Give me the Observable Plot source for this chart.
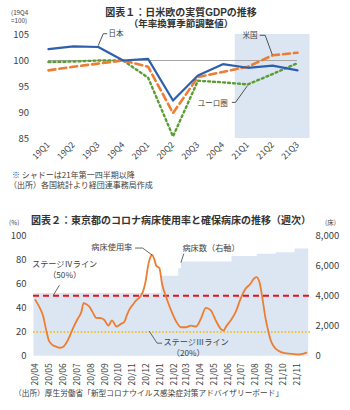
<!DOCTYPE html>
<html><head><meta charset="utf-8">
<script src="https://cdn.jsdelivr.net/npm/d3@7"></script>
<script src="https://cdn.jsdelivr.net/npm/@observablehq/plot@0.6"></script>
<style>
body{margin:0;background:#fff;}
#wrap{position:relative;width:350px;height:410px;overflow:hidden;font-family:"Noto Sans CJK JP",sans-serif;color:#404040;}
.t{position:absolute;white-space:nowrap;line-height:1;}
.c{transform:translate(-50%,-50%);text-align:center;}
.l{transform:translate(0,-50%);}
#wrap svg{position:absolute;left:0;}
</style></head><body><div id="wrap"></div>
<script>
// ---------- Chart 1 data ----------
const quarters = ["19Q1","19Q2","19Q3","19Q4","20Q1","20Q2","20Q3","20Q4","21Q1","21Q2","21Q3"];
const japan = [102.2, 102.7, 102.6, 100.0, 100.3, 92.3, 97.1, 99.3, 98.6, 99.0, 98.1];
const usa   = [98.1, 98.8, 99.4, 100.0, 98.8, 89.9, 96.8, 97.8, 98.8, 101.0, 101.5];
const euro  = [99.7, 99.8, 100.0, 100.0, 96.7, 85.4, 96.1, 95.8, 95.4, 97.4, 99.5];
const yTicks1 = [85, 90, 95, 100, 105];
const shadeFrom = "21Q1";
const baseValue = 100;
const seriesNames = ["日本", "米国", "ユーロ圏"];

// ---------- Chart 2 data ----------
const occDates = ["2020-03-31","2020-04-10","2020-04-17","2020-04-24","2020-04-30","2020-05-09","2020-05-17","2020-05-24","2020-05-31","2020-06-07","2020-06-14","2020-06-22","2020-07-03","2020-07-11","2020-07-16","2020-07-22","2020-07-29","2020-08-05","2020-08-13","2020-08-24","2020-08-31","2020-09-09","2020-09-17","2020-09-27","2020-10-07","2020-10-14","2020-10-20","2020-10-26","2020-11-02","2020-11-09","2020-11-20","2020-11-26","2020-12-01","2020-12-06","2020-12-10","2020-12-15","2020-12-20","2020-12-24","2020-12-31","2021-01-06","2021-01-15","2021-01-26","2021-02-06","2021-02-17","2021-02-28","2021-03-11","2021-03-22","2021-04-02","2021-04-13","2021-04-24","2021-05-05","2021-05-16","2021-05-23","2021-05-27","2021-06-07","2021-06-18","2021-06-29","2021-07-10","2021-07-21","2021-07-28","2021-08-03","2021-08-10","2021-08-16","2021-08-23","2021-08-30","2021-09-03","2021-09-10","2021-09-20","2021-10-05","2021-10-20","2021-11-03","2021-11-14","2021-11-22"];
const occRate = [46.7,40,33.7,22,13,9,7.8,7,7.5,10.5,15.5,22.7,31,36.5,44,43,41,36.5,31.8,31.5,30,25.4,29.6,24.6,26.8,28.2,34,39,42.5,46,50,55,63,75,81,84,80,75,73,60,49,38,29,24,24,25.4,24.6,31,40,38,29.6,22.7,21.3,24,29.6,36.5,47.5,55.8,60,64,65.5,61.3,49,32,20,14,8.5,4.7,2.5,2,1.4,2,3];
const bedDates = ["2020-03-28","2021-01-04","2021-02-12","2021-02-18","2021-06-10","2021-08-05","2021-09-16","2021-10-28","2021-11-27"];
const beds = [4150, 5300, 5800, 6250, 6600, 6750, 6850, 7100, 7100];
const stageLines = [{label:"ステージⅣライン", pct:"（50%）", value:50}, {label:"ステージⅢライン", pct:"（20%）", value:20}];
const monthLabels = ["20/04","20/05","20/06","20/07","20/08","20/09","20/10","20/11","20/12","21/01","21/02","21/03","21/04","21/05","21/06","21/07","21/08","21/09","21/10","21/11"];
const yTicksLeft = [0, 20, 40, 60, 80, 100];
const yTicksRight = [0, 2000, 4000, 6000, 8000];
const leftMax = 100, rightMax = 8000;

const FONT = '"Noto Sans CJK JP", sans-serif';
const TFONT = '"Liberation Sans", "Noto Sans CJK JP", sans-serif';
const TXT = "#404040";
const wrap = document.getElementById("wrap");
function addText(lines, x, y, cls, style) {
  const d = document.createElement("div");
  d.className = "t " + cls;
  [].concat(lines).forEach((s, i) => {
    if (i) d.appendChild(document.createElement("br"));
    d.appendChild(document.createTextNode(s));
  });
  d.style.left = x + "px"; d.style.top = y + "px";
  Object.assign(d.style, style || {});
  wrap.appendChild(d);
}
function textMarks(data, opts) {
  return ["start", "middle", "end"].map(a =>
    Plot.text(data.filter(d => d.anchor === a), {...opts, textAnchor: a}));
}

// ---------- Chart 1 ----------
const rows = (vals) => vals.map((v, i) => ({i, v}));
const si = quarters.indexOf(shadeFrom);
const n = quarters.length;
const shade = [{x1: si - 0.5, x2: n - 0.5, y1: yTicks1[0], y2: yTicks1[yTicks1.length - 1]}];
const ann1 = [
  {text: seriesNames[0], x: 2.41, y: 105.15, anchor: "start"},
  {text: seriesNames[1], x: 8.09, y: 104.8, anchor: "middle"},
  {text: seriesNames[2], x: 7.2, y: 91.7, anchor: "end"}
];
const leaders1 = [
  [{x:2.0,y:102.9},{x:2.2,y:105.15},{x:2.34,y:105.15}],
  [{x:8.5,y:104.85},{x:8.7,y:104.85},{x:8.98,y:101.2}],
  [{x:7.38,y:91.95},{x:7.51,y:91.95},{x:7.98,y:95.1}]
];
const plot1 = Plot.plot({
  width: 350, height: 170,
  marginTop: 34, marginBottom: 32, marginLeft: 35.5, marginRight: 40.5,
  style: {fontFamily: FONT, fontSize: "9px", color: TXT, background: "transparent", overflow: "visible"},
  x: {type: "linear", domain: [-0.5, n - 0.5]},
  y: {domain: [yTicks1[0], yTicks1[yTicks1.length - 1]]},
  marks: [
    Plot.rect(shade, {x1: "x1", x2: "x2", y1: "y1", y2: "y2", fill: "#dce6f2"}),
    Plot.ruleY([baseValue], {x1: 0, x2: n - 1, stroke: "#a6a6a6", strokeWidth: 1.2}),
    Plot.line(rows(euro), {x: "i", y: "v", stroke: "#5a9e32", strokeWidth: 2.4, strokeDasharray: "2,3"}),
    Plot.line(rows(usa), {x: "i", y: "v", stroke: "#ed7d31", strokeWidth: 2.6, strokeDasharray: "7,4"}),
    Plot.line(rows(japan), {x: "i", y: "v", stroke: "#2e5fae", strokeWidth: 2.2}),
    ...leaders1.map(l => Plot.line(l, {x: "x", y: "y", stroke: "#404040", strokeWidth: 0.9})),
    ...textMarks(ann1, {x: "x", y: "y", text: "text", fontSize: 7.5, fill: TXT}),
    Plot.axisY({ticks: yTicks1, tickSize: 0, tickPadding: 7, label: null, fontSize: 9.5, fill: TXT}),
    Plot.axisX({ticks: d3.range(n), tickFormat: i => quarters[i], tickRotate: -45, tickSize: 0, tickPadding: 5, label: null, fontSize: 8.5, fill: TXT})
  ]
});
plot1.style.top = "0px";
wrap.appendChild(plot1);

addText("図表１：日米欧の実質GDPの推移", 181, 12.6, "c", {fontFamily: TFONT, fontSize: "10px", fontWeight: "bold", color: "#333"});
addText("（年率換算季節調整値）", 181, 24, "c", {fontFamily: TFONT, fontSize: "9.5px", fontWeight: "bold", color: "#333"});
addText(["(19Q4", "=100)"], 11, 17, "l", {fontSize: "6.3px", lineHeight: "8px"});
addText("※ シャドーは21年第一四半期以降", 12, 174.5, "l", {fontSize: "8px"});
addText("（出所）各国統計より経団連事務局作成", 9, 185, "l", {fontSize: "8px"});

// ---------- Chart 2 ----------
const parse = s => new Date(s + "T00:00:00Z");
const monthDate = s => new Date(Date.UTC(2000 + +s.slice(0, 2), +s.slice(3) - 1, 1));
const ratio = rightMax / leftMax;
const occ = occDates.map((d, i) => ({date: parse(d), v: occRate[i]}));
const bedRows = bedDates.map((d, i) => ({date: parse(d), v: beds[i] / ratio}));
const monthTicks = monthLabels.map(monthDate);
const ann2 = [
  {text: "病床使用率", date: "2020-11-01", y: 89.8, anchor: "end"},
  {text: "病床数（右軸）", date: "2021-02-20", y: 89.0, anchor: "start"},
  {text: stageLines[0].label, date: "2020-06-04", y: 75.7, anchor: "middle"},
  {text: stageLines[0].pct, date: "2020-06-04", y: 66.9, anchor: "middle"},
  {text: stageLines[1].label, date: "2021-01-09", y: 11.8, anchor: "start"},
  {text: stageLines[1].pct, date: "2021-03-05", y: 2.1, anchor: "middle"}
].map(d => ({...d, date: parse(d.date)}));
const leaders2 = [
  [["2020-11-08",89.6],["2020-11-24",89.6],["2020-12-14",84.0]],
  [["2021-02-23",84.7],["2021-02-17",77.8]],
  [["2020-05-23",58.6],["2020-05-11",51.1]],
  [["2020-12-09",20.5],["2020-12-26",10.8],["2021-01-05",10.8]]
].map(l => l.map(([d, v]) => ({date: parse(d), v})));

const plot2 = Plot.plot({
  width: 350, height: 170,
  marginTop: 10, marginBottom: 39.3, marginLeft: 33, marginRight: 40,
  style: {fontFamily: FONT, fontSize: "9px", color: TXT, background: "transparent", overflow: "visible"},
  x: {type: "utc", domain: [parse("2020-03-27"), parse("2021-12-01")]},
  y: {domain: [0, leftMax]},
  marks: [
    Plot.areaY(bedRows, {x: "date", y: "v", curve: "step-after", fill: "#dce6f2"}),
    Plot.ruleY([stageLines[0].value], {stroke: "#e8121b", strokeWidth: 2, strokeDasharray: "6,4"}),
    Plot.ruleY([stageLines[1].value], {stroke: "#f5b800", strokeWidth: 1.5, strokeDasharray: "1.6,1.8"}),
    Plot.line(occ, {x: "date", y: "v", stroke: "#ed7d31", strokeWidth: 1.8, curve: "monotone-x"}),
    ...leaders2.map(l => Plot.line(l, {x: "date", y: "v", stroke: "#404040", strokeWidth: 0.8})),
    ...textMarks(ann2, {x: "date", y: "y", text: "text", fontSize: 8.2, fill: TXT}),
    Plot.axisY({ticks: yTicksLeft, tickSize: 0, tickPadding: 7, label: null, fontSize: 9.5, fill: TXT}),
    Plot.axisY(yTicksRight.map(v => v / ratio), {anchor: "right", tickFormat: d => d * ratio, tickSize: 0, tickPadding: 5, label: null, fontSize: 9.5, fill: TXT}),
    Plot.axisX({ticks: monthTicks, tickFormat: (d, i) => monthLabels[i], tickRotate: -90, tickSize: 0, tickPadding: 7, label: null, fontSize: 8.5, fill: TXT})
  ]
});
plot2.style.top = "225px";
wrap.appendChild(plot2);

addText("図表２：東京都のコロナ病床使用率と確保病床の推移（週次）", 171, 221, "c", {fontFamily: TFONT, fontSize: "10px", fontWeight: "bold", color: "#333"});
addText("(%)", 9, 222, "l", {fontSize: "6.5px"});
addText("(床)", 325, 222, "l", {fontSize: "6.5px"});
addText("（出所）厚生労働省「新型コロナウイルス感染症対策アドバイザリーボード」", 14, 393, "l", {fontSize: "7.7px"});
</script></body></html>
